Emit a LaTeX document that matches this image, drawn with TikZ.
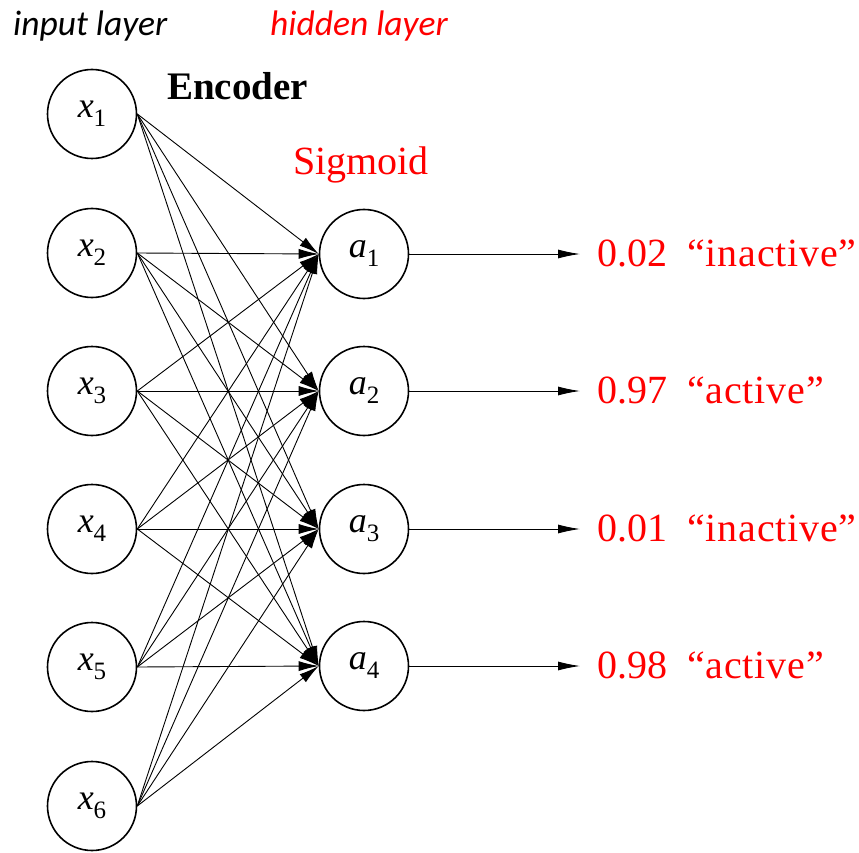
\documentclass[tikz,border=0pt]{standalone}
\usepackage{fontspec}
\setmainfont{Liberation Serif}
\newfontfamily\layerfont{Carlito}
\usetikzlibrary{positioning,arrows.meta}
\definecolor{sigred}{RGB}{255,0,0}
\newcommand{\quoted}[1]{{\addfontfeatures{LetterSpace=2}#1}}
\newcommand{\unit}[2]{\textit{#1}\raisebox{-0.25em}{\fontsize{25}{25}\selectfont #2}}
\tikzset{
  neuronstyle/.style={circle, draw, line width=1.6pt, minimum size=89pt,
    inner sep=0pt, font=\fontsize{36}{40}\selectfont},
  edgestyle/.style={-{Latex[length=20pt,width=10pt]}, line width=0.9pt},
  outstyle/.style={-{Latex[length=22pt,width=9pt]}, line width=0.9pt, shorten >=17pt},
  labelstyle/.style={anchor=base west, inner sep=0pt, text=sigred,
    font=\fontsize{40}{48}\selectfont},
  titlestyle/.style={anchor=base west, inner sep=0pt,
    font=\layerfont\itshape\fontsize{35.5}{42}\selectfont}
}

\begin{document}
\begin{tikzpicture}[x=1pt, y=-1pt]
  \useasboundingbox (0,0) rectangle (859,853);
  % headings
  \node[titlestyle] (inl) at (13,36) {input layer};
  \node[titlestyle, text=sigred] (hidl) at (270,36) {hidden layer};
  \node[anchor=base west, inner sep=0pt, font=\bfseries\fontsize{39}{46}\selectfont] (enc) at (167,100) {Encoder};
  \node[labelstyle] (sig) at (293,175) {Sigmoid};
  % input layer
  \foreach \i/\y in {1/114,2/253,3/391,4/529,5/667,6/806}
    \node[neuronstyle] (x\i) at (92,\y) {\unit{x}{\i}};
  % hidden layer
  \foreach \j/\y in {1/254,2/391,3/529,4/666}
    \node[neuronstyle] (a\j) at (364,\y) {\unit{a}{\j}};
  % fully connected
  \foreach \i in {1,...,6}
    \foreach \j in {1,...,4}
      \draw[edgestyle] (x\i.east) -- (a\j.west);
  % outputs
  \node[labelstyle] (o1) at (597,266) {0.02\hspace{0.5em}\quoted{“inactive”}};
  \node[labelstyle] (o2) at (597,403) {0.97\hspace{0.5em}\quoted{“active”}};
  \node[labelstyle] (o3) at (597,541) {0.01\hspace{0.5em}\quoted{“inactive”}};
  \node[labelstyle] (o4) at (597,678) {0.98\hspace{0.5em}\quoted{“active”}};
  \foreach \j in {1,...,4}
    \draw[outstyle] (a\j.east) -- (a\j.east -| o\j.west);
\end{tikzpicture}
\end{document}
